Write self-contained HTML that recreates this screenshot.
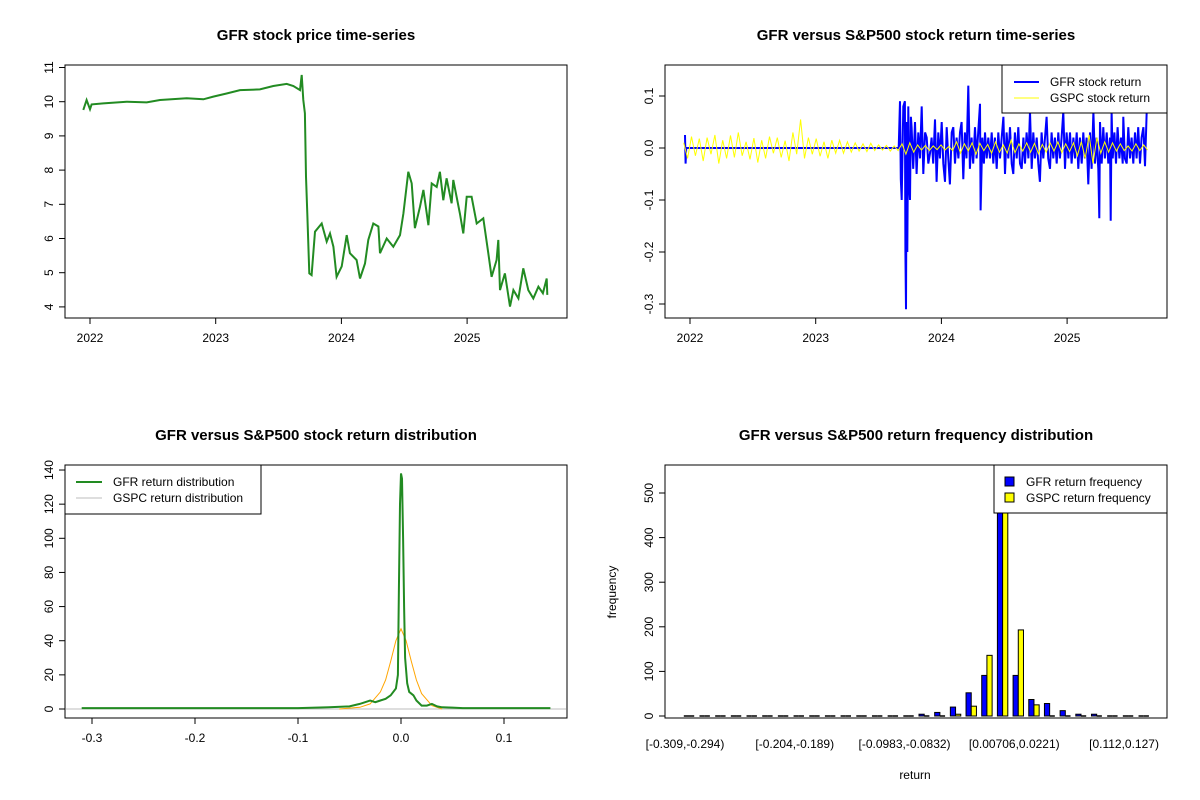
<!DOCTYPE html>
<html><head><meta charset="utf-8"><style>
html,body{margin:0;padding:0;background:#fff}
svg{display:block;font-family:"Liberation Sans",Arial,sans-serif}
</style></head><body>
<svg id="c" width="1200" height="800" viewBox="0 0 1200 800"></svg>
<script>
// ---------- DATA ----------
const priceYears=[2021.947,2021.973,2022.0,2022.013,2022.106,2022.292,2022.451,2022.557,2022.769,2022.902,2022.981,2023.087,2023.193,2023.352,2023.458,2023.565,2023.618,2023.671,2023.684,2023.697,2023.710,2023.718,2023.729,2023.745,2023.763,2023.790,2023.843,2023.883,2023.909,2023.936,2023.962,2024.002,2024.042,2024.068,2024.121,2024.148,2024.188,2024.214,2024.254,2024.294,2024.307,2024.360,2024.413,2024.466,2024.493,2024.532,2024.559,2024.585,2024.625,2024.652,2024.692,2024.718,2024.758,2024.784,2024.811,2024.837,2024.877,2024.890,2024.943,2024.970,2024.997,2025.036,2025.076,2025.129,2025.169,2025.195,2025.235,2025.248,2025.262,2025.301,2025.341,2025.368,2025.408,2025.447,2025.487,2025.527,2025.567,2025.603,2025.633,2025.638];
const priceValues=[9.76,10.05,9.78,9.92,9.95,10.0,9.98,10.05,10.10,10.07,10.15,10.24,10.34,10.36,10.46,10.52,10.46,10.34,10.78,10.05,9.66,7.81,6.73,4.98,4.93,6.20,6.44,5.91,6.15,5.76,4.88,5.18,6.10,5.57,5.37,4.83,5.27,5.96,6.44,6.35,5.57,6.00,5.76,6.10,6.73,7.95,7.61,6.30,6.93,7.42,6.39,7.61,7.51,7.95,7.12,7.76,7.03,7.71,6.73,6.15,7.22,7.22,6.44,6.59,5.57,4.88,5.37,5.96,4.49,4.98,4.01,4.49,4.25,5.13,4.49,4.25,4.59,4.40,4.83,4.35];
const priceTicks=[4,5,6,7,8,9,10,11];
const yearTicks=[2022,2023,2024,2025];

const gfrRetYears=[2021.96,2021.965,2021.97,2022.0,2023.66,2023.671,2023.677,2023.684,2023.697,2023.710,2023.714,2023.718,2023.724,2023.729,2023.737,2023.744,2023.750,2023.757,2023.763,2023.776,2023.790,2023.803,2023.816,2023.830,2023.843,2023.856,2023.870,2023.883,2023.896,2023.909,2023.922,2023.935,2023.949,2023.962,2023.975,2023.988,2024.002,2024.015,2024.029,2024.042,2024.055,2024.068,2024.082,2024.095,2024.108,2024.121,2024.135,2024.148,2024.161,2024.174,2024.187,2024.200,2024.214,2024.227,2024.240,2024.253,2024.267,2024.280,2024.293,2024.307,2024.312,2024.325,2024.338,2024.347,2024.360,2024.373,2024.387,2024.400,2024.413,2024.426,2024.440,2024.453,2024.466,2024.480,2024.493,2024.506,2024.519,2024.532,2024.546,2024.559,2024.572,2024.585,2024.599,2024.612,2024.625,2024.639,2024.652,2024.665,2024.678,2024.692,2024.705,2024.718,2024.731,2024.744,2024.758,2024.771,2024.784,2024.797,2024.811,2024.824,2024.837,2024.850,2024.864,2024.877,2024.890,2024.903,2024.917,2024.930,2024.943,2024.956,2024.970,2024.983,2024.996,2025.010,2025.023,2025.036,2025.050,2025.063,2025.076,2025.089,2025.102,2025.116,2025.129,2025.142,2025.155,2025.169,2025.182,2025.195,2025.209,2025.222,2025.235,2025.248,2025.256,2025.262,2025.275,2025.288,2025.301,2025.315,2025.328,2025.341,2025.347,2025.354,2025.363,2025.376,2025.389,2025.402,2025.416,2025.429,2025.442,2025.447,2025.460,2025.474,2025.487,2025.500,2025.513,2025.527,2025.540,2025.553,2025.566,2025.580,2025.593,2025.607,2025.620,2025.633,2025.638];
const gfrRetValues=[0.025,-0.03,0.0,0.0,0.0,0.09,-0.06,-0.1,0.08,0.09,-0.2,-0.31,0.05,-0.2,0.08,-0.07,-0.1,0.06,0.04,-0.04,0.05,-0.05,0.03,-0.02,0.08,-0.05,0.03,0.02,-0.03,-0.01,0.02,-0.03,0.055,-0.065,0.03,-0.02,0.05,-0.03,-0.065,0.04,-0.02,-0.07,0.03,0.04,-0.03,0.02,-0.02,0.03,0.05,-0.06,0.03,-0.02,0.12,-0.04,0.02,-0.03,0.04,-0.02,0.03,0.085,-0.12,0.02,-0.03,0.03,-0.02,0.02,-0.02,0.03,-0.03,0.02,-0.04,0.03,-0.02,0.02,0.06,-0.05,0.03,-0.02,0.04,-0.03,-0.05,0.03,-0.02,0.04,-0.03,-0.04,0.02,-0.03,0.03,-0.02,0.07,-0.04,0.03,-0.02,0.02,-0.03,-0.065,0.03,-0.02,0.02,0.06,-0.02,-0.04,0.03,-0.02,0.02,-0.03,0.03,-0.02,0.02,0.07,-0.04,0.03,-0.02,0.03,-0.03,0.02,-0.02,0.03,-0.04,0.02,-0.03,0.03,-0.02,0.02,-0.07,0.03,-0.04,0.07,-0.03,0.02,-0.04,-0.135,0.05,-0.03,0.04,-0.02,0.03,-0.03,0.02,-0.14,0.07,-0.02,0.03,-0.03,0.04,-0.02,0.02,-0.03,0.06,-0.02,-0.03,0.04,-0.02,0.02,-0.03,0.03,-0.02,0.04,-0.03,0.02,0.04,-0.035,0.07];
const gspcRetValues=[0.01,-0.02,0.022,-0.015,0.018,-0.025,0.02,-0.012,0.025,-0.03,0.015,-0.02,0.024,-0.018,0.03,-0.015,0.012,-0.022,0.019,-0.028,
0.015,-0.02,0.022,-0.01,0.02,-0.018,0.014,-0.025,0.03,-0.012,0.055,-0.02,0.02,-0.012,0.018,-0.016,0.012,-0.02,0.015,-0.01,
0.015,-0.01,0.012,-0.008,0.01,-0.006,0.008,-0.007,0.009,-0.005,0.006,-0.004,0.005,-0.006,0.004,-0.005,0.008,-0.012,0.01,-0.008,
0.006,-0.004,0.005,-0.005,0.004,-0.003,0.006,-0.004,0.003,-0.005,
0.012,-0.01,0.008,-0.006,0.01,-0.012,0.009,-0.005,0.007,-0.01,0.012,-0.008,0.006,-0.01,0.015,-0.009,0.008,-0.006,0.01,-0.008,
0.009,-0.011,0.007,-0.008,0.01,-0.006,0.012,-0.009,0.008,-0.007,
0.01,-0.015,0.012,-0.02,0.025,-0.03,0.02,-0.01,0.012,-0.008,0.01,-0.006,0.008,-0.005,0.004,-0.006,0.008,-0.005,0.006,-0.004];
const gspcStart=2021.95, gspcEnd=2025.64;
const retTicks=[-0.3,-0.2,-0.1,0.0,0.1];

const gfrDensX=[-0.31,-0.1,-0.07,-0.05,-0.04,-0.03,-0.025,-0.02,-0.015,-0.01,-0.005,-0.003,-0.002,-0.001,0,0.001,0.002,0.003,0.004,0.006,0.008,0.012,0.015,0.02,0.025,0.03,0.035,0.04,0.05,0.06,0.145];
const gfrDensY=[0.5,0.5,1,1.5,3,5,4,5,6,8,12,20,70,120,138,135,100,60,30,15,10,8,5,2,2,3,1.5,1,0.8,0.5,0.5];
const gspcDensX=[-0.06,-0.04,-0.03,-0.02,-0.015,-0.01,-0.005,0,0.005,0.01,0.015,0.02,0.03,0.04];
const gspcDensY=[0,1,3,10,17,28,40,47,40,28,17,9,2,0];
const densYTicks=[0,20,40,60,80,100,120,140];
const densXTicks=[-0.3,-0.2,-0.1,0.0,0.1];

const histLabels=["[-0.309,-0.294)","[-0.204,-0.189)","[-0.0983,-0.0832)","[0.00706,0.0221)","[0.112,0.127)"];
const histLabelIdx=[0,7,14,21,28];
const gfrFreq=[2,0,0,0,0,0,0,1,0,0,0,1,1,1,1,4,8,20,52,91,541,91,37,28,12,4,4,2,2,0];
const gspcFreq=[0,0,0,0,0,0,0,0,0,0,0,0,0,0,0,0,2,4,22,136,530,193,25,0,2,1,2,1,1,0];
const freqTicks=[0,100,200,300,400,500];

// ---------- DRAW ----------
const svg=document.getElementById('c');
const NS='http://www.w3.org/2000/svg';
function mk(tag,attrs,parent){const e=document.createElementNS(NS,tag);for(const k in attrs)e.setAttribute(k,attrs[k]);(parent||svg).appendChild(e);return e;}
function txt(x,y,s,size,opts){opts=opts||{};const t=mk('text',{x:x,y:y,'font-size':size,'text-anchor':opts.anchor||'middle',fill:'#000'});if(opts.bold)t.setAttribute('font-weight','bold');if(opts.rot)t.setAttribute('transform','rotate(-90 '+x+' '+y+')');t.textContent=s;return t;}

function panel(L,T,R,B,title,name){
  const g=mk('g',{});
  
  
  const r=mk('rect',{x:L,y:T,width:R-L,height:B-T,fill:'none',stroke:'#000','stroke-width':1},g);
  
  
  const t=txt((L+R)/2,T-25,title,15,{bold:true});g.appendChild(t);
  
  
  return g;
}
function yAxis(g,L,ticks,fy,fmt,nm){
  ticks.forEach(v=>{const y=fy(v);mk('line',{x1:L-6,x2:L,y1:y,y2:y,stroke:'#000'},g);
    const t=txt(L-12,y,fmt(v),12,{rot:true});g.appendChild(t);
    
    });
  mk('line',{x1:L,x2:L,y1:fy(ticks[0]),y2:fy(ticks[ticks.length-1]),stroke:'#000'},g);
}
function xAxis(g,B,ticks,fx,fmt,nm){
  ticks.forEach(v=>{const x=fx(v);mk('line',{x1:x,x2:x,y1:B,y2:B+6,stroke:'#000'},g);
    const t=txt(x,B+24,fmt(v),12);g.appendChild(t);
    
    });
  mk('line',{y1:B,y2:B,x1:fx(ticks[0]),x2:fx(ticks[ticks.length-1]),stroke:'#000'},g);
}
function poly(g,xs,ys,fx,fy,color,w,nm){
  const p=mk('polyline',{points:xs.map((x,i)=>fx(x).toFixed(1)+','+fy(ys[i]).toFixed(1)).join(' '),fill:'none',stroke:color,'stroke-width':w,'stroke-linejoin':'miter'},g);
  
  
  return p;
}
const fYear=(base)=>(v)=>base+(v-2022)*125.7;
const numFmt=v=>(Math.abs(v)<1e-9?'0.0':String(v));

// Panel 1
{
  const g=panel(65,65,567,318,'GFR stock price time-series','price-panel');
  const fx=fYear(90), fy=v=>101.7-(v-10)*34.2;
  yAxis(g,65,priceTicks,fy,v=>String(v),'y-tick-label');
  xAxis(g,318,yearTicks,fx,v=>String(v),'x-tick-label');
  poly(g,priceYears,priceValues,fx,fy,'#228B22',2,'gfr-price-line');
}
// Panel 2
{
  const g=panel(665,65,1167,318,'GFR versus S&P500 stock return time-series','return-ts-panel');
  const fx=fYear(690), fy=v=>148-v*520;
  yAxis(g,665,retTicks,fy,numFmt,'y-tick-label');
  xAxis(g,318,yearTicks,fx,v=>String(v),'x-tick-label');
  poly(g,gfrRetYears,gfrRetValues,fx,fy,'#0000FF',2,'gfr-return-line');
  const n=gspcRetValues.length;
  const gd=gspcRetValues.map((_,i)=>gspcStart+(gspcEnd-gspcStart)*i/(n-1));
  poly(g,gd,gspcRetValues,fx,fy,'#FFFF00',1,'gspc-return-line');
  const lg=mk('g',{},g);
  mk('rect',{x:1002,y:65,width:165,height:48,fill:'#fff',stroke:'#000'},lg);
  mk('line',{x1:1014,x2:1039,y1:82,y2:82,stroke:'#0000FF','stroke-width':2},lg);
  mk('line',{x1:1014,x2:1039,y1:98,y2:98,stroke:'#FFFF00','stroke-width':1},lg);
  const a=txt(1050,86,'GFR stock return',12,{anchor:'start'});lg.appendChild(a);
  
  const b=txt(1050,102,'GSPC stock return',12,{anchor:'start'});lg.appendChild(b);
  
}
// Panel 3
{
  const g=panel(65,465,567,718,'GFR versus S&P500 stock return distribution','density-panel');
  const fx=v=>401+v*1030, fy=v=>709-v*1.707;
  yAxis(g,65,densYTicks,fy,v=>String(v),'y-tick-label');
  xAxis(g,718,densXTicks,fx,numFmt,'x-tick-label');
  mk('line',{x1:66,x2:566,y1:fy(0),y2:fy(0),stroke:'#bebebe'},g);
  poly(g,gspcDensX,gspcDensY,fx,fy,'#FFA500',1,'gspc-density-line');
  poly(g,gfrDensX,gfrDensY,fx,fy,'#228B22',2,'gfr-density-line');
  const lg=mk('g',{},g);
  mk('rect',{x:65,y:465,width:196,height:49,fill:'#fff',stroke:'#000'},lg);
  mk('line',{x1:76,x2:102,y1:482,y2:482,stroke:'#228B22','stroke-width':2},lg);
  mk('line',{x1:76,x2:102,y1:498,y2:498,stroke:'#bebebe','stroke-width':1},lg);
  const a=txt(113,486,'GFR return distribution',12,{anchor:'start'});lg.appendChild(a);
  
  const b=txt(113,502,'GSPC return distribution',12,{anchor:'start'});lg.appendChild(b);
  
}
// Panel 4
{
  const g=panel(665,465,1167,718,'GFR versus S&P500 return frequency distribution','histogram-panel');
  const fy=v=>716-v*0.446, gc=i=>689+i*15.68, bw=5.2;
  yAxis(g,665,freqTicks,fy,v=>String(v),'y-tick-label');
  function bar(i,v,x,color,nm){
    const h=fy(0)-fy(v);
    if(h<1){
      const l=mk('line',{x1:x,x2:x+bw,y1:fy(0),y2:fy(0),stroke:'#000','stroke-width':1.5},g);
      
      
    } else {
      const r=mk('rect',{x:x,y:fy(v),width:bw,height:h,fill:color,stroke:'#000','stroke-width':1},g);
      
      
    }
  }
  gfrFreq.forEach((v,i)=>bar(i,v,gc(i)-bw,'#0000FF','bar-gfr'));
  gspcFreq.forEach((v,i)=>bar(i,v,gc(i),'#FFFF00','bar-gspc'));
  histLabelIdx.forEach((idx,k)=>{
    const t=txt(gc(idx)-4,748,histLabels[k],12);g.appendChild(t);
    
    
  });
  const xt=txt(915,779,'return',12);g.appendChild(xt);
  
  const yt=txt(616,592,'frequency',12,{rot:true});g.appendChild(yt);
  
  const lg=mk('g',{},g);
  mk('rect',{x:994,y:465,width:173,height:48,fill:'#fff',stroke:'#000'},lg);
  mk('rect',{x:1005,y:477,width:9,height:9,fill:'#0000FF',stroke:'#000'},lg);
  mk('rect',{x:1005,y:493,width:9,height:9,fill:'#FFFF00',stroke:'#000'},lg);
  const a=txt(1026,486,'GFR return frequency',12,{anchor:'start'});lg.appendChild(a);
  
  const b=txt(1026,502,'GSPC return frequency',12,{anchor:'start'});lg.appendChild(b);
  
}
</script>
</body></html>
